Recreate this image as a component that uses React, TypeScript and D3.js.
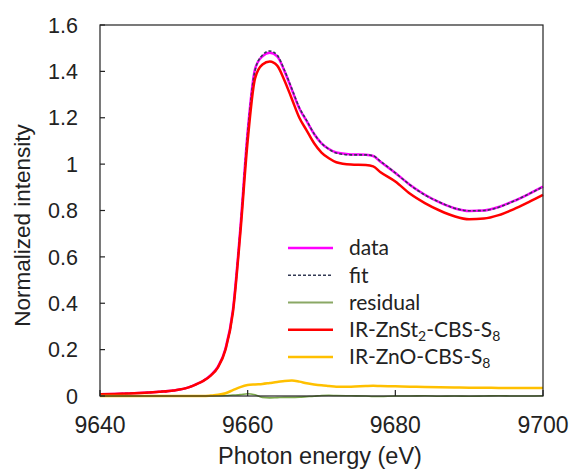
import React from "react";
import * as d3 from "d3";

// photon energy grid (eV)
const energy = [
  9640, 9642, 9644, 9646, 9648, 9650, 9652, 9653, 9654, 9655,
  9656, 9657, 9658, 9659, 9660, 9661, 9662, 9663, 9664, 9665,
  9666, 9667, 9668, 9669, 9670, 9671, 9672, 9674, 9676, 9677,
  9678, 9680, 9682, 9684, 9686, 9688, 9690, 9692, 9694, 9696,
  9698, 9700,
];

const dataSeries = [
  0.007, 0.009, 0.011, 0.014, 0.018, 0.024, 0.037, 0.05, 0.066, 0.09,
  0.128, 0.205, 0.37, 0.72, 1.14, 1.41, 1.465, 1.48, 1.465, 1.4,
  1.32, 1.24, 1.185, 1.13, 1.09, 1.065, 1.05, 1.042, 1.04, 1.035,
  1.01, 0.962, 0.91, 0.868, 0.835, 0.81, 0.798, 0.8, 0.815, 0.84,
  0.87, 0.903,
];

const fitSeries = [
  0.007, 0.009, 0.011, 0.014, 0.018, 0.024, 0.037, 0.05, 0.066, 0.089,
  0.127, 0.204, 0.366, 0.715, 1.136, 1.405, 1.47, 1.488, 1.47, 1.404,
  1.324, 1.244, 1.188, 1.131, 1.09, 1.064, 1.048, 1.04, 1.04, 1.036,
  1.012, 0.962, 0.91, 0.867, 0.836, 0.81, 0.799, 0.8, 0.814, 0.84,
  0.87, 0.902,
];

const residualSeries = [
  0, 0, 0, 0, 0, 0, 0, 0, 0, 0.001,
  0.001, 0.002, 0.004, 0.006, 0.01, 0.005, -0.006, -0.008, -0.007, -0.006,
  -0.006, -0.005, -0.003, -0.001, 0.002, 0.003, 0.002, 0.001, 0, -0.002,
  -0.002, 0, 0, 0.001, -0.001, 0, -0.001, 0, 0.001, 0,
  0, 0.001,
];

const znSt2Series = [
  0.007, 0.009, 0.011, 0.014, 0.018, 0.024, 0.037, 0.05, 0.065, 0.088,
  0.125, 0.2, 0.36, 0.7, 1.1, 1.37, 1.43, 1.443, 1.425, 1.36,
  1.28, 1.2, 1.145, 1.09, 1.05, 1.025, 1.008, 0.998, 0.996, 0.99,
  0.965, 0.925, 0.872, 0.832, 0.8, 0.775, 0.762, 0.765, 0.78, 0.805,
  0.835, 0.867,
];

const znOSeries = [
  0, 0, 0, 0, 0, 0, 0, 0, 0, 0.002,
  0.005, 0.012, 0.025, 0.038, 0.047, 0.05, 0.052, 0.056, 0.06, 0.065,
  0.067, 0.062, 0.055, 0.05, 0.046, 0.043, 0.04, 0.04, 0.043, 0.044,
  0.043, 0.042, 0.04, 0.039, 0.038, 0.037, 0.036, 0.036, 0.035, 0.035,
  0.035, 0.035,
];

const xTicks = [9640, 9660, 9680, 9700];
const yTicks = [0, 0.2, 0.4, 0.6, 0.8, 1, 1.2, 1.4, 1.6];
const yTickLabels = ["0", "0.2", "0.4", "0.6", "0.8", "1", "1.2", "1.4", "1.6"];

const W = 572;
const H = 474;
const left = 100, right = 543, top = 25, bottom = 396;
const tickFont = "'Liberation Sans', Arial, sans-serif";
const legendFont = "Lato, 'Open Sans', sans-serif";

export default function App() {
  const x = d3.scaleLinear().domain([9640, 9700]).range([left, right]);
  const y = d3.scaleLinear().domain([0, 1.6]).range([bottom, top]);

  const line = d3
    .line<number>()
    .x((_, i) => x(energy[i]))
    .y((d) => y(d))
    .curve(d3.curveMonotoneX);

  const series = [
    { name: "data", values: dataSeries, color: "#ff00ff", width: 2.5, dash: "" },
    { name: "fit", values: fitSeries, color: "#333a55", width: 1.6, dash: "3,2" },
    { name: "residual", values: residualSeries, color: "#7aa84a", width: 1.6, dash: "" },
    { name: "znst2", values: znSt2Series, color: "#ff0000", width: 2.5, dash: "" },
    { name: "zno", values: znOSeries, color: "#ffc000", width: 2.5, dash: "" },
  ];

  const legendY = d3.scaleLinear().domain([0, 4]).range([248, 357]);
  const legendRows: { color: string; width: number; dash: string; label: React.ReactNode }[] = [
    { color: "#ff00ff", width: 2.5, dash: "", label: "data" },
    { color: "#333a55", width: 1.6, dash: "3,2", label: "fit" },
    { color: "#8aa865", width: 2, dash: "", label: "residual" },
    {
      color: "#ff0000", width: 2.5, dash: "",
      label: (
        <>
          IR-ZnSt<tspan fontSize="14" dy="4">2</tspan>
          <tspan dy="-4">-CBS-S</tspan>
          <tspan fontSize="14" dy="4">8</tspan>
        </>
      ),
    },
    {
      color: "#ffc000", width: 2.5, dash: "",
      label: (
        <>
          IR-ZnO-CBS-S<tspan fontSize="14" dy="4">8</tspan>
        </>
      ),
    },
  ];

  return (
    <svg
      width={W}
      height={H}
      style={{ position: "absolute", left: 0, top: 0, background: "#fff" }}
    >
      {/* series */}
      {series.map((s) => (
        <path
          key={s.name}
          d={line(s.values) ?? ""}
          fill="none"
          stroke={s.color}
          strokeWidth={s.width}
          strokeDasharray={s.dash || undefined}
          strokeLinejoin="round"
        />
      ))}

      {/* frame */}
      <rect x={left} y={top} width={right - left} height={bottom - top} fill="none" stroke="#222" strokeWidth={1.2} />

      {/* y ticks */}
      {yTicks.map((t, i) => (
        <g key={"y" + t}>
          <line x1={left} x2={left + 5} y1={y(t)} y2={y(t)} stroke="#222" strokeWidth={1.2} />
          <text
            x={78}
            y={y(t)}
            dy="0.36em"
            textAnchor="end"
            fontFamily={tickFont}
            fontSize={21.5}
            fill="#222"
          >
            {yTickLabels[i]}
          </text>
        </g>
      ))}

      {/* x ticks */}
      {xTicks.map((t) => (
        <g key={"x" + t}>
          <line x1={x(t)} x2={x(t)} y1={bottom} y2={bottom - 6} stroke="#222" strokeWidth={1.2} />
          <text x={x(t)} y={433} textAnchor="middle" fontFamily={tickFont} fontSize={23} fill="#222">
            {t}
          </text>
        </g>
      ))}

      {/* axis titles */}
      <text x={320} y={464} textAnchor="middle" fontFamily={tickFont} fontSize={23.5} fill="#222">
        Photon energy (eV)
      </text>
      <text
        transform={`translate(30,${(118 + 333) / 2}) rotate(-90)`}
        textAnchor="middle"
        fontFamily={tickFont}
        fontSize={22.5}
        fill="#222"
      >
        Normalized intensity
      </text>

      {/* legend */}
      {legendRows.map((r, i) => (
        <g key={"lg" + i}>
          <line
            x1={288}
            x2={333}
            y1={legendY(i)}
            y2={legendY(i)}
            stroke={r.color}
            strokeWidth={r.width}
            strokeDasharray={r.dash || undefined}
          />
          <text x={349} y={legendY(i)} dy="0.35em" fontFamily={legendFont} fontSize={21} fill="#222">
            {r.label}
          </text>
        </g>
      ))}
    </svg>
  );
}
